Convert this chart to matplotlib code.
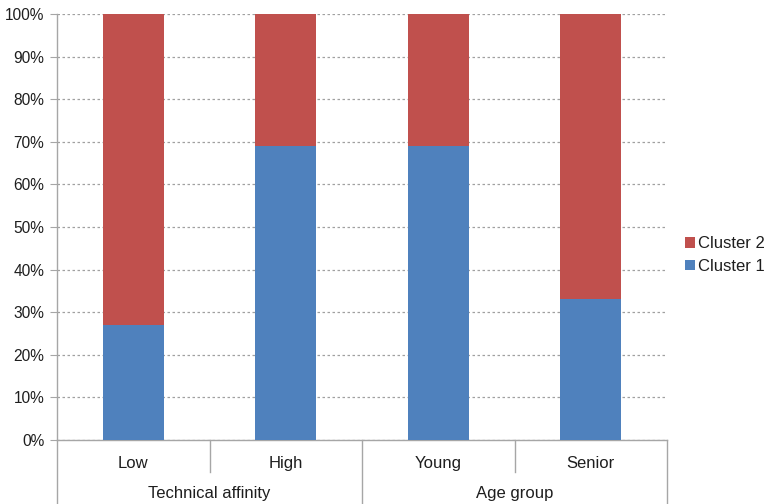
import matplotlib
matplotlib.use("Agg")
import matplotlib.pyplot as plt
from matplotlib.patches import Patch
from matplotlib.ticker import PercentFormatter, MultipleLocator
import matplotlib.transforms as mtransforms

plt.rcParams['font.family'] = ['Liberation Sans', 'DejaVu Sans']

categories = ["Low", "High", "Young", "Senior"]
groups = ["Technical affinity", "Age group"]
group_sizes = [2, 2]
cluster1 = [27, 69, 69, 33]
cluster2 = [100 - v for v in cluster1]

blue = "#4F81BD"
red = "#C0504D"
axis_grey = "#A6A6A6"
text_col = "#1E1E1E"

fig = plt.figure(figsize=(7.67, 5.04), dpi=100)
ax = fig.add_axes([57 / 767, 64 / 504, 610 / 767, 426 / 504])

x = list(range(len(categories)))
ax.bar(x, cluster1, width=0.4, color=blue, zorder=3)
ax.bar(x, cluster2, width=0.4, bottom=cluster1, color=red, zorder=3)

ax.set_xlim(-0.5, len(categories) - 0.5)
ax.set_ylim(0, 100)
ax.yaxis.set_major_locator(MultipleLocator(10))
ax.yaxis.set_major_formatter(PercentFormatter(decimals=0))
ax.yaxis.grid(True, linestyle=(0, (2, 2)), color="#A0A0A0", linewidth=0.9, zorder=0)
ax.tick_params(axis='y', length=5, color=axis_grey, labelsize=11.2, labelcolor=text_col, pad=4)
ax.set_xticks([])

for side in ("top", "right"):
    ax.spines[side].set_visible(False)
for side in ("left", "bottom"):
    ax.spines[side].set_color(axis_grey)
    ax.spines[side].set_linewidth(1.0)

trans = mtransforms.blended_transform_factory(ax.transData, ax.transAxes)

# category labels and separators
for i, name in enumerate(categories):
    ax.text(i, -0.054, name, transform=trans, ha='center', va='center',
            fontsize=12, color=text_col)

boundaries = [-0.5]
pos = -0.5
for n in group_sizes:
    pos += n
    boundaries.append(pos)

for b in [i + 0.5 for i in range(len(categories) - 1)]:
    if b not in boundaries:
        ax.plot([b, b], [0, -0.075], transform=trans, color=axis_grey,
                linewidth=1.0, clip_on=False)

for b in boundaries:
    ax.plot([b, b], [0, -0.152], transform=trans, color=axis_grey,
            linewidth=1.0, clip_on=False)

start = -0.5
for g, n in zip(groups, group_sizes):
    center = start + n / 2
    ax.text(center, -0.125, g, transform=trans, ha='center', va='center',
            fontsize=12, color=text_col)
    start += n

handles = [Patch(facecolor=red, label="Cluster 2"),
           Patch(facecolor=blue, label="Cluster 1")]
fig.legend(handles=handles, loc='center left', bbox_to_anchor=(685 / 767, 1 - 255 / 504),
           frameon=False, fontsize=12, handlelength=0.6, handleheight=0.6,
           handletextpad=0.15, labelspacing=0.45, labelcolor=text_col,
           borderpad=0, borderaxespad=0)

fig.savefig("out.png", dpi=100)
